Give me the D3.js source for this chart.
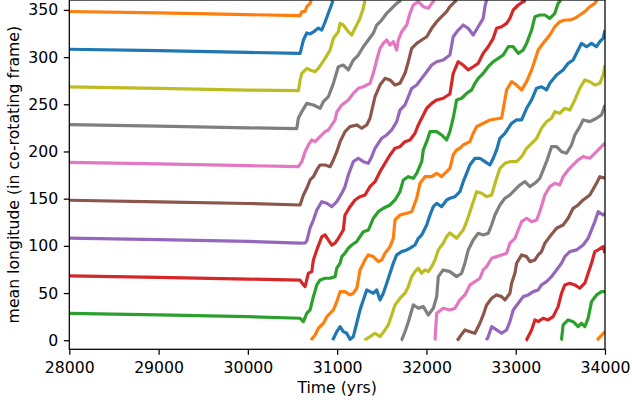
<!DOCTYPE html>
<html>
<head>
<meta charset="utf-8">
<script src="https://cdnjs.cloudflare.com/ajax/libs/d3/7.8.5/d3.min.js"></script>
<style>
  body { margin: 0; background: #fff; }
  svg { display: block; font-family: "DejaVu Sans", sans-serif; }
</style>
</head>
<body>
<svg width="632" height="405"></svg>
<script>
(function () {
  'use strict';

  // tick values
  var xTicks = [28000, 29000, 30000, 31000, 32000, 33000, 34000];
  var yTicks = [0, 50, 100, 150, 200, 250, 300, 350];

  // mean longitude of each particle, [year, degrees], not yet wrapped to 0-360
  var bluePath = [[28000,308.3],[29000,306.8],[30000,305.0],[30585,304.0],[30622,318.1],[30660,325.6],[30697,324.5],[30734,326.6],[30790,330.8],[30828,328.7],[30865,337.2],[30902,346.7],[30940,356.2],[30955,361.0],[30996,369.1],[31033,374.4],[31069,369.1],[31107,367.4],[31144,361.0],[31181,363.8],[31219,378.0],[31256,392.1],[31293,402.7],[31331,413.3],[31368,411.5],[31405,409.8],[31443,413.3],[31480,402.7],[31517,409.8],[31555,420.4],[31592,431.0],[31629,441.6],[31667,450.4],[31723,453.9],[31779,455.7],[31816,457.5],[31872,460.9],[31909,468.0],[31947,471.5],[32003,482.1],[32040,492.7],[32077,501.5],[32115,505.1],[32170,501.5],[32226,508.6],[32263,510.4],[32319,512.1],[32375,517.4],[32412,528.0],[32450,536.9],[32487,545.7],[32543,552.8],[32599,552.8],[32655,549.2],[32711,545.7],[32748,552.8],[32786,561.6],[32823,574.0],[32879,579.3],[32916,584.6],[32954,589.9],[33010,593.4],[33066,593.4],[33122,605.8],[33178,614.6],[33234,627.0],[33289,628.6],[33345,625.2],[33382,632.2],[33457,641.0],[33531,646.4],[33587,653.4],[33643,656.9],[33699,667.5],[33737,674.6],[33793,671.0],[33849,674.6],[33905,671.0],[33942,676.3],[33979,679.9],[34000,688.7]];

  var orangePath = [[28000,348.3],[29000,346.8],[30000,345.0],[30585,343.9],[30604,348.0],[30641,348.5],[30660,353.4],[30697,357.0],[30716,361.4],[30753,365.6],[30790,372.7],[30846,378.0],[30884,385.0],[30921,388.6],[30958,392.1],[30996,400.9],[31033,411.5],[31088,411.5],[31144,408.0],[31181,409.8],[31219,415.1],[31237,423.9],[31256,434.5],[31312,445.1],[31349,450.4],[31405,448.6],[31461,443.3],[31499,445.1],[31536,452.2],[31592,459.1],[31629,468.0],[31648,487.4],[31704,492.7],[31779,494.5],[31835,496.2],[31891,510.4],[31928,526.3],[31984,533.3],[32059,533.3],[32115,536.9],[32170,533.3],[32226,538.6],[32263,542.2],[32300,556.3],[32338,561.6],[32375,563.4],[32412,566.9],[32450,568.7],[32487,570.4],[32524,579.3],[32562,586.3],[32599,588.1],[32674,591.6],[32711,593.4],[32842,595.5],[32898,625.2],[32954,634.0],[33010,630.4],[33066,625.2],[33122,634.0],[33178,646.4],[33215,656.9],[33252,667.5],[33307,674.6],[33382,683.4],[33438,692.2],[33494,697.5],[33550,699.3],[33606,699.3],[33662,701.1],[33718,704.6],[33774,708.1],[33830,713.4],[33886,717.0],[33923,721.4],[34000,729.1]];

  var greenPath = [[28000,28.5],[29000,26.9],[30000,25.0],[30585,23.3],[30622,19.7],[30660,28.6],[30697,32.1],[30734,46.2],[30772,58.6],[30809,63.9],[30865,65.7],[30921,65.7],[30977,67.4],[30996,76.3],[31033,81.6],[31052,88.6],[31088,92.2],[31125,97.5],[31163,100.9],[31219,104.4],[31256,109.7],[31293,115.0],[31349,116.8],[31405,129.2],[31461,136.2],[31517,139.8],[31592,143.3],[31648,148.6],[31704,157.4],[31741,169.8],[31797,173.3],[31853,171.6],[31891,176.9],[31947,189.2],[31965,201.6],[32003,210.4],[32040,221.0],[32115,221.0],[32170,217.5],[32226,212.2],[32263,221.0],[32300,235.5],[32338,254.6],[32394,256.4],[32450,261.6],[32506,265.2],[32543,272.2],[32580,277.5],[32636,282.8],[32692,289.8],[32748,295.1],[32804,298.7],[32860,302.2],[32916,311.0],[32972,311.0],[33028,304.0],[33084,307.5],[33122,314.6],[33178,328.7],[33215,342.8],[33270,344.6],[33326,344.6],[33382,341.1],[33438,346.4],[33475,357.0],[33513,360.8],[33531,376.2],[33587,381.5],[33643,379.7],[33699,374.4],[33737,378.0],[33774,374.4],[33811,383.3],[33849,400.9],[33905,408.0],[33961,411.5],[34000,411.5]];

  var redPath = [[28000,68.2],[29000,66.6],[30000,64.8],[30585,63.6],[30622,58.6],[30641,56.8],[30678,71.0],[30716,72.7],[30734,85.1],[30772,95.7],[30828,109.7],[30865,111.5],[30902,106.2],[30940,100.9],[30977,102.8],[31013,108.0],[31069,116.8],[31088,132.7],[31144,141.5],[31200,148.6],[31256,152.1],[31312,153.9],[31368,162.7],[31424,168.0],[31480,178.6],[31536,187.5],[31592,196.3],[31648,203.4],[31704,205.1],[31760,210.4],[31816,212.2],[31872,219.3],[31909,228.1],[31965,238.7],[32003,245.8],[32059,251.0],[32115,254.6],[32188,256.4],[32263,260.9],[32300,282.8],[32356,295.1],[32412,291.6],[32468,286.4],[32524,289.8],[32580,293.4],[32636,304.0],[32692,311.0],[32748,319.9],[32786,330.5],[32842,332.2],[32898,335.8],[32935,341.1],[32972,349.9],[33028,355.2],[33084,358.7],[33122,360.5],[33178,370.9],[33215,381.5],[33252,379.7],[33307,383.3],[33363,381.5],[33419,385.0],[33475,395.6],[33513,409.8],[33550,418.6],[33606,420.4],[33662,418.6],[33718,415.1],[33774,420.4],[33811,431.0],[33849,441.6],[33886,453.9],[33923,455.7],[33979,459.1],[34000,452.2]];

  var purplePath = [[28000,108.3],[29000,106.6],[30000,104.8],[30585,103.0],[30641,103.2],[30660,105.2],[30697,119.0],[30734,127.4],[30772,138.0],[30828,146.8],[30884,145.1],[30940,141.5],[30996,146.8],[31052,155.7],[31088,162.7],[31125,175.1],[31181,189.2],[31237,192.8],[31293,189.2],[31349,187.5],[31387,194.5],[31424,203.4],[31461,208.7],[31499,214.0],[31555,217.5],[31611,222.8],[31667,231.6],[31704,243.9],[31760,249.3],[31797,258.0],[31835,266.9],[31891,270.4],[31947,277.5],[32003,284.5],[32059,291.6],[32115,295.1],[32188,296.9],[32263,302.2],[32300,321.6],[32356,328.7],[32412,334.0],[32468,330.5],[32524,323.4],[32580,332.2],[32636,341.1],[32655,353.4],[32674,360.5],[32692,363.8],[32730,374.4],[32786,370.9],[32842,367.4],[32898,370.9],[32935,379.7],[32972,392.1],[33028,399.2],[33084,406.2],[33140,408.0],[33196,411.5],[33252,413.3],[33289,418.6],[33345,422.1],[33401,427.4],[33457,434.5],[33513,441.6],[33550,448.6],[33606,453.9],[33681,455.7],[33755,460.9],[33811,468.0],[33886,485.6],[33923,496.2],[33979,492.7],[34000,494.5]];

  var brownPath = [[28000,148.3],[29000,146.7],[30000,144.9],[30585,143.3],[30622,153.9],[30660,161.0],[30697,169.8],[30734,173.3],[30772,180.4],[30809,185.7],[30865,185.7],[30921,183.9],[30958,191.0],[30996,199.8],[31033,210.4],[31088,221.0],[31144,226.3],[31219,228.1],[31275,224.6],[31331,228.1],[31368,235.2],[31424,258.0],[31480,270.4],[31536,277.5],[31592,275.8],[31648,270.4],[31704,272.2],[31760,282.8],[31797,295.1],[31835,309.3],[31891,314.6],[31947,318.1],[32003,321.6],[32059,330.5],[32115,337.5],[32170,342.8],[32226,348.1],[32263,353.4],[32319,358.7],[32356,361.0],[32375,363.8],[32431,370.9],[32487,369.1],[32543,367.4],[32599,378.0],[32636,386.8],[32674,397.4],[32730,404.5],[32786,408.0],[32842,406.2],[32879,402.7],[32935,409.8],[32954,420.4],[32991,431.0],[33010,441.6],[33066,450.4],[33122,448.6],[33159,443.3],[33215,445.1],[33252,450.4],[33289,453.9],[33326,462.8],[33382,469.8],[33457,478.6],[33531,482.1],[33587,489.2],[33643,499.8],[33699,503.3],[33755,508.6],[33830,513.9],[33905,526.3],[33942,533.3],[34000,531.6]];

  var pinkPath = [[28000,188.4],[29000,186.8],[30000,185.0],[30566,183.9],[30604,189.2],[30641,199.8],[30678,206.9],[30716,212.2],[30753,210.4],[30790,214.0],[30828,217.5],[30865,221.0],[30902,222.8],[30940,228.1],[30977,233.4],[30996,241.8],[31052,249.3],[31125,254.6],[31181,261.6],[31237,266.9],[31293,268.6],[31368,272.2],[31405,282.8],[31443,296.9],[31480,309.3],[31517,314.6],[31555,318.1],[31592,312.8],[31629,316.3],[31667,307.5],[31685,318.1],[31723,326.9],[31779,334.0],[31816,346.4],[31853,355.2],[31909,358.7],[31965,353.4],[32021,351.7],[32059,357.0],[32096,360.5],[32115,388.6],[32188,393.9],[32263,392.1],[32319,393.9],[32375,402.7],[32431,408.0],[32487,418.6],[32543,422.1],[32599,425.7],[32636,434.5],[32674,438.0],[32730,446.9],[32786,448.6],[32842,450.4],[32898,452.2],[32935,462.8],[32991,468.0],[33028,476.8],[33066,485.6],[33122,489.2],[33178,485.6],[33234,487.4],[33270,496.2],[33326,513.9],[33382,522.7],[33438,526.3],[33494,524.5],[33531,533.3],[33587,540.4],[33643,545.7],[33699,551.0],[33755,554.5],[33830,552.8],[33905,559.8],[33979,566.9],[34000,568.7]];

  var grayPath = [[28000,228.4],[29000,226.8],[30000,225.0],[30548,224.3],[30566,235.5],[30604,242.2],[30660,251.0],[30734,249.3],[30809,245.8],[30846,252.7],[30902,258.0],[30958,272.2],[31013,289.8],[31069,291.6],[31125,286.4],[31181,296.9],[31237,302.2],[31293,311.0],[31349,318.1],[31405,325.2],[31443,334.0],[31499,339.3],[31555,346.4],[31611,351.7],[31667,357.0],[31723,360.5],[31760,369.0],[31797,379.3],[31853,397.4],[31909,393.9],[31965,395.6],[32021,386.8],[32077,393.9],[32115,406.2],[32133,427.4],[32188,434.5],[32263,432.7],[32338,427.4],[32394,431.0],[32431,441.6],[32468,455.7],[32524,466.2],[32580,473.3],[32636,471.5],[32692,473.3],[32730,482.1],[32767,492.7],[32823,503.3],[32879,510.4],[32935,513.9],[32991,519.2],[33047,524.5],[33103,528.0],[33159,522.7],[33215,526.3],[33270,531.6],[33345,549.2],[33401,565.1],[33457,565.1],[33513,559.8],[33569,558.1],[33625,566.9],[33662,577.5],[33718,586.3],[33755,593.4],[33830,591.6],[33905,595.2],[33961,598.7],[34000,609.3]];

  var olivePath = [[28000,268.4],[29000,266.8],[30000,265.0],[30566,264.4],[30585,275.8],[30604,282.8],[30660,288.1],[30697,286.4],[30753,284.5],[30790,288.1],[30828,293.4],[30865,298.7],[30921,307.5],[30958,319.9],[31013,326.9],[31033,335.8],[31069,334.0],[31125,326.9],[31163,323.4],[31200,330.5],[31219,334.0],[31256,341.1],[31293,351.7],[31312,360.5],[31368,363.8],[31424,367.4],[31480,363.8],[31536,370.9],[31573,376.2],[31611,386.8],[31648,397.4],[31704,404.5],[31760,409.8],[31797,416.8],[31835,427.4],[31872,432.7],[31909,436.3],[31947,431.0],[31984,434.5],[32021,432.7],[32059,438.0],[32096,445.1],[32133,455.7],[32188,462.8],[32226,469.8],[32263,473.7],[32338,468.0],[32412,476.8],[32450,485.6],[32506,501.5],[32562,517.4],[32618,515.7],[32674,512.1],[32730,513.9],[32786,531.6],[32823,542.2],[32879,547.5],[32935,549.2],[33010,549.2],[33066,554.5],[33122,563.4],[33178,568.7],[33234,574.0],[33289,584.6],[33345,591.6],[33401,595.2],[33438,602.2],[33494,600.5],[33550,605.8],[33606,603.9],[33662,614.6],[33718,627.0],[33774,635.8],[33830,633.9],[33886,630.4],[33942,632.2],[33979,641.0],[34000,651.6]];

  // plotting order follows the default colour cycle
  var paths = [bluePath, orangePath, greenPath, redPath, purplePath,
               brownPath, pinkPath, grayPath, olivePath];

  var svg = d3.select("svg"),
      margin = {top: 0, right: 27, bottom: 55.7, left: 69.3},
      width = +svg.attr("width"),
      height = +svg.attr("height");

  var x = d3.scaleLinear()
      .domain([28000, 34000])
      .range([margin.left, width - margin.right]);

  var y = d3.scaleLinear()
      .domain([-9.6, 360.5])
      .range([height - margin.bottom, margin.top]);

  //Splits one particle track into pieces that each stay inside 0-360
  function wrapSegments(path) {
    var segs = [], cur = [];
    path.forEach(function(p, i) {
      var k = Math.floor(p[1] / 360);
      if (i > 0) {
        var q = path[i - 1], kq = Math.floor(q[1] / 360);
        if (k !== kq) {
          var edge = Math.max(k, kq) * 360;
          var tc = q[0] + (edge - q[1]) / (p[1] - q[1]) * (p[0] - q[0]);
          cur.push([tc, edge - kq * 360]);
          segs.push(cur);
          cur = [[tc, edge - k * 360]];
        }
      }
      cur.push([p[0], p[1] - k * 360]);
    });
    segs.push(cur);
    return segs;
  }

  svg.append("clipPath")
      .attr("id", "plot-clip")
    .append("rect")
      .attr("x", margin.left)
      .attr("y", margin.top)
      .attr("width", width - margin.left - margin.right)
      .attr("height", height - margin.top - margin.bottom);

  var line = d3.line()
      .x(function(d) { return x(d[0]); })
      .y(function(d) { return y(d[1]); });

  var plot = svg.append("g").attr("clip-path", "url(#plot-clip)");

  paths.forEach(function(path, i) {
    plot.selectAll(null)
        .data(wrapSegments(path))
        .enter().append("path")
        .attr("d", line)
        .attr("fill", "none")
        .attr("stroke", d3.schemeCategory10[i])
        .attr("stroke-width", 3.2)
        .attr("stroke-linejoin", "round");
  });

  //Axes, matplotlib style
  var xAxis = svg.append("g")
      .attr("transform", "translate(0," + (height - margin.bottom) + ")")
      .call(d3.axisBottom(x).tickValues(xTicks).tickFormat(d3.format("d"))
        .tickSize(5.5).tickSizeOuter(0).tickPadding(7.4));

  var yAxis = svg.append("g")
      .attr("transform", "translate(" + margin.left + ",0)")
      .call(d3.axisLeft(y).tickValues(yTicks).tickFormat(d3.format("d"))
        .tickSize(5.5).tickSizeOuter(0).tickPadding(5.5));

  [xAxis, yAxis].forEach(function(a) {
    a.select(".domain").remove();
    a.selectAll(".tick line").attr("stroke", "#000").attr("stroke-width", 1.26);
    a.selectAll(".tick text")
        .attr("fill", "#000")
        .style("font-size", "15.7px")
        .style("font-family", "'DejaVu Sans', sans-serif");
  });

  // box around the plot
  svg.append("rect")
      .attr("x", margin.left)
      .attr("y", margin.top)
      .attr("width", width - margin.left - margin.right)
      .attr("height", height - margin.top - margin.bottom)
      .attr("fill", "none")
      .attr("stroke", "#000")
      .attr("stroke-width", 1.26);

  svg.append("text")
      .attr("x", (margin.left + width - margin.right) / 2)
      .attr("y", 392.5)
      .attr("text-anchor", "middle")
      .style("font-size", "15.7px")
      .text("Time (yrs)");

  svg.append("text")
      .attr("transform", "translate(19," + ((height - margin.bottom) / 2) + ") rotate(-90)")
      .attr("text-anchor", "middle")
      .style("font-size", "15.7px")
      .text("mean longitude (in co-rotating frame)");

}());
</script>
</body>
</html>
